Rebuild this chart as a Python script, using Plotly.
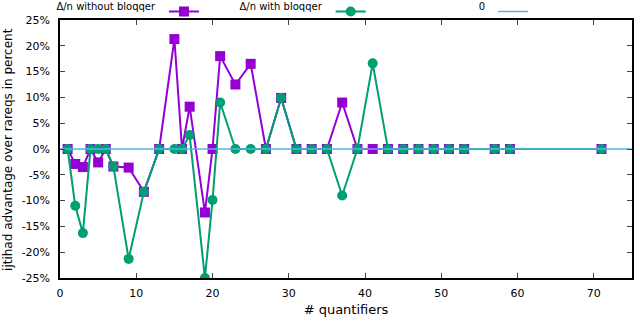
import plotly.graph_objects as go

# number of quantifiers (x) shared by both series
quantifiers = [1, 2, 3, 4, 5, 6, 7, 9, 11, 13, 15, 16, 17, 19, 20, 21, 23, 25, 27, 29,
               31, 33, 35, 37, 39, 41, 43, 45, 47, 49, 51, 53, 57, 59, 71]

# advantage in percent
without_bloqqer = [0, -2.9, -3.5, 0, -2.6, 0, -3.4, -3.6, -8.3, 0, 21.3, 0, 8.2, -12.3, 0, 18.0,
                   12.5, 16.5, 0, 9.9, 0, 0, 0, 9.0, 0, 0, 0, 0, 0, 0, 0, 0, 0, 0, 0]
with_bloqqer = [0, -11.0, -16.3, 0, 0, 0, -3.4, -21.3, -8.3, 0, 0, 0, 2.7, -25.0, -9.9, 9.0,
                0, 0, 0, 9.9, 0, 0, 0, -9.0, 0, 16.6, 0, 0, 0, 0, 0, 0, 0, 0, 0]

zero_x = [0, 75]
zero_y = [0, 0]

x_ticks = [0, 10, 20, 30, 40, 50, 60, 70]
y_ticks = [-25, -20, -15, -10, -5, 0, 5, 10, 15, 20, 25]
y_labels = ["-25%", "-20%", "-15%", "-10%", "-5%", "0%", "5%", "10%", "15%", "20%", "25%"]

FONT = "DejaVu Sans"

fig = go.Figure()
fig.add_trace(go.Scatter(x=quantifiers, y=without_bloqqer, mode="lines+markers", name="",
                         line=dict(color="#9400D3", width=2),
                         marker=dict(symbol="square", size=10, color="#9400D3"),
                         legend="legend"))
fig.add_trace(go.Scatter(x=quantifiers, y=with_bloqqer, mode="lines+markers", name="",
                         line=dict(color="#009E73", width=2),
                         marker=dict(symbol="circle", size=10, color="#009E73"),
                         legend="legend2"))
fig.add_trace(go.Scatter(x=zero_x, y=zero_y, mode="lines", name="",
                         line=dict(color="#56B4E9", width=1.5),
                         legend="legend3"))

def leg(title, x):
    return dict(title=dict(text=title, side="left", font=dict(family=FONT, size=10, color="black")),
                x=x, y=1.089, xref="container", yref="paper", xanchor="left", yanchor="top",
                orientation="h", bgcolor="rgba(0,0,0,0)", itemwidth=30,
                font=dict(family=FONT, size=10, color="black"))

fig.update_layout(
    width=640, height=321,
    margin=dict(l=60, r=8, t=20, b=43, autoexpand=False),
    plot_bgcolor="white", paper_bgcolor="white",
    font=dict(family=FONT, size=11, color="black"),
    showlegend=True,
    legend=leg("Δ/n without bloqqer", 0.085),
    legend2=leg("Δ/n with bloqqer", 0.371),
    legend3=leg("0", 0.745),
)
fig.update_xaxes(range=[0, 75], tickvals=x_ticks, ticks="inside", ticklen=5,
                 showline=True, linecolor="black", linewidth=1.5, mirror="allticks",
                 showgrid=False, zeroline=False, ticklabelstandoff=4,
                 title=dict(text="# quantifiers", standoff=6),
                 tickfont=dict(family=FONT, size=11))
fig.update_yaxes(range=[-25, 25], tickvals=y_ticks, ticktext=y_labels, ticks="inside", ticklen=5,
                 showline=True, linecolor="black", linewidth=1.5, mirror="allticks",
                 showgrid=False, zeroline=False, ticklabelstandoff=6,
                 tickfont=dict(family=FONT, size=11))

# y axis label as a rotated annotation (axis title gets misplaced with the top legends)
fig.add_annotation(text="ijtihad advantage over rareqs in percent", textangle=-90,
                   xref="paper", yref="paper", x=-0.091, y=0.5,
                   xanchor="center", yanchor="middle", showarrow=False,
                   font=dict(family=FONT, size=12, color="black"))

# the page body has a default 8px margin; drop it and redraw so the figure fills the window
post = ("document.body.style.margin='0';"
        "var gd=document.getElementById('{plot_id}');"
        "Plotly.newPlot(gd, gd.data, gd.layout, {displayModeBar:false});")
fig.write_html("out.html", config={"displayModeBar": False}, post_script=post)
